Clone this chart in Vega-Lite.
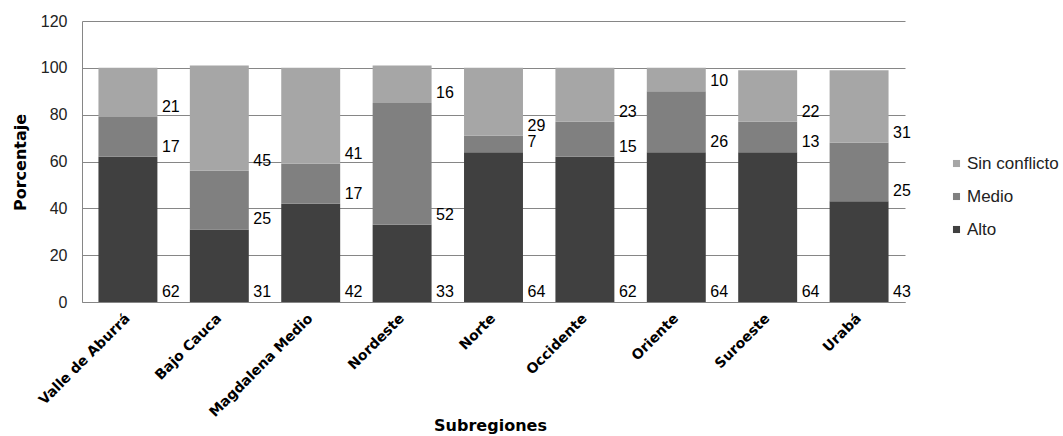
{
  "$schema": "https://vega.github.io/schema/vega-lite/v6.json",
  "width": 823,
  "height": 281,
  "autosize": "none",
  "padding": {"left": 82, "top": 21, "right": 158, "bottom": 134},
  "background": "white",
  "config": {
    "view": {"stroke": null},
    "font": "Liberation Sans"
  },
  "data": {
    "values": [
      {"region": "Valle de Aburrá", "nivel": "Alto", "pct": 62},
      {"region": "Valle de Aburrá", "nivel": "Medio", "pct": 17},
      {"region": "Valle de Aburrá", "nivel": "Sin conflicto", "pct": 21},
      {"region": "Bajo Cauca", "nivel": "Alto", "pct": 31},
      {"region": "Bajo Cauca", "nivel": "Medio", "pct": 25},
      {"region": "Bajo Cauca", "nivel": "Sin conflicto", "pct": 45},
      {"region": "Magdalena Medio", "nivel": "Alto", "pct": 42},
      {"region": "Magdalena Medio", "nivel": "Medio", "pct": 17},
      {"region": "Magdalena Medio", "nivel": "Sin conflicto", "pct": 41},
      {"region": "Nordeste", "nivel": "Alto", "pct": 33},
      {"region": "Nordeste", "nivel": "Medio", "pct": 52},
      {"region": "Nordeste", "nivel": "Sin conflicto", "pct": 16},
      {"region": "Norte", "nivel": "Alto", "pct": 64},
      {"region": "Norte", "nivel": "Medio", "pct": 7},
      {"region": "Norte", "nivel": "Sin conflicto", "pct": 29},
      {"region": "Occidente", "nivel": "Alto", "pct": 62},
      {"region": "Occidente", "nivel": "Medio", "pct": 15},
      {"region": "Occidente", "nivel": "Sin conflicto", "pct": 23},
      {"region": "Oriente", "nivel": "Alto", "pct": 64},
      {"region": "Oriente", "nivel": "Medio", "pct": 26},
      {"region": "Oriente", "nivel": "Sin conflicto", "pct": 10},
      {"region": "Suroeste", "nivel": "Alto", "pct": 64},
      {"region": "Suroeste", "nivel": "Medio", "pct": 13},
      {"region": "Suroeste", "nivel": "Sin conflicto", "pct": 22},
      {"region": "Urabá", "nivel": "Alto", "pct": 43},
      {"region": "Urabá", "nivel": "Medio", "pct": 25},
      {"region": "Urabá", "nivel": "Sin conflicto", "pct": 31}
    ]
  },
  "encoding": {
    "x": {
      "field": "region",
      "type": "nominal",
      "sort": null,
      "scale": {"paddingInner": 0.355, "paddingOuter": 0.18},
      "axis": {
        "title": "Subregiones",
        "titleFont": "DejaVu Sans",
        "titleFontSize": 16,
        "titleFontWeight": "bold",
        "titleColor": "#000000",
        "titleBaseline": "middle",
        "titleX": 408,
        "titleY": 123,
        "labelAngle": -45,
        "labelAlign": "right",
        "labelBaseline": "middle",
        "labelFont": "DejaVu Sans",
        "labelFontSize": 14,
        "labelFontWeight": "bold",
        "labelColor": "#000000",
        "labelPadding": 14,
        "ticks": false,
        "domainColor": "#868686",
        "domainWidth": 1
      }
    }
  },
  "layer": [
    {
      "mark": {"type": "bar"},
      "encoding": {
        "y": {
          "field": "pct",
          "type": "quantitative",
          "stack": "zero",
          "scale": {"domain": [0, 120]},
          "axis": {
            "title": "Porcentaje",
            "titleFont": "DejaVu Sans",
            "titleFontSize": 16,
            "titleFontWeight": "bold",
            "titleColor": "#000000",
            "titleBaseline": "middle",
            "titleX": -62,
            "titleY": 141,
            "values": [0, 20, 40, 60, 80, 100, 120],
            "labelFont": "Liberation Sans",
            "labelFontSize": 16,
            "labelColor": "#222222",
            "labelPadding": 15,
            "ticks": false,
            "grid": true,
            "gridColor": "#868686",
            "gridWidth": 1,
            "domainColor": "#868686",
            "domainWidth": 1
          }
        },
        "color": {
          "field": "nivel",
          "type": "nominal",
          "scale": {
            "domain": ["Sin conflicto", "Medio", "Alto"],
            "range": ["#a6a6a6", "#808080", "#404040"]
          },
          "legend": {
            "title": null,
            "orient": "none",
            "legendX": 866,
            "legendY": 134,
            "symbolType": "square",
            "symbolSize": 50,
            "symbolStrokeWidth": 0,
            "labelFont": "Liberation Sans",
            "labelFontSize": 17,
            "labelColor": "#222222",
            "labelOffset": 2,
            "rowPadding": 15
          }
        },
        "order": {"field": "nivel", "sort": "ascending"}
      }
    },
    {
      "transform": [
        {
          "stack": "pct",
          "groupby": ["region"],
          "sort": [{"field": "nivel", "order": "ascending"}],
          "as": ["base", "end"]
        }
      ],
      "mark": {
        "type": "text",
        "align": "left",
        "baseline": "alphabetic",
        "dx": 34,
        "dy": -5,
        "font": "Liberation Sans",
        "fontSize": 16,
        "color": "#000000"
      },
      "encoding": {
        "y": {"field": "base", "type": "quantitative"},
        "text": {"field": "pct", "type": "quantitative"}
      }
    }
  ]
}
